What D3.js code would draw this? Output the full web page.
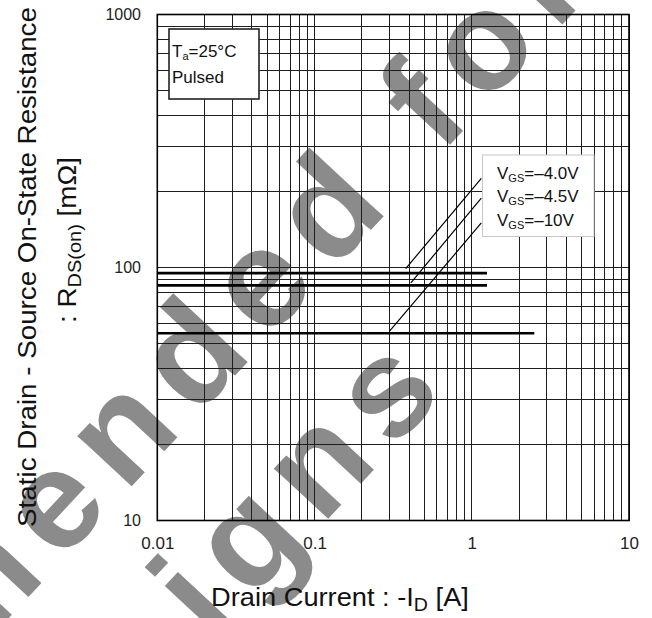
<!DOCTYPE html>
<html>
<head>
<meta charset="utf-8">
<script src="https://cdn.jsdelivr.net/npm/d3@7"></script>
<style>
  html, body { margin: 0; padding: 0; background: #fff; }
  svg { display: block; font-family: 'Liberation Sans', Arial, sans-serif; }
  text { white-space: pre; }
</style>
</head>
<body>
<div id="chart"></div>
<script>
// tick labels
const xTickLabels = [0.01, 0.1, 1, 10];
const yTickLabels = [10, 100, 1000];

// R_DS(on) curves, one per gate voltage (flat over the measured range)
const vgsLabels = ['=\u20134.0V', '=\u20134.5V', '=\u201310V'];
const rdsOn = [95, 85, 55];
const idFrom = [0.01, 0.01, 0.01];
const idTo = [1.25, 1.25, 2.5];

// leader lines from each curve to the legend
const leaderFrom = [[0.38, 99], [0.41, 87], [0.30, 56]];
const leaderTo = [[1.15, 225], [1.15, 188], [1.15, 150]];

const conditionLines = ['=25°C', 'Pulsed'];
const watermarkLines = ['Not recommended for', 'new designs'];

function createChart(element) {
  const width = 652;
  const height = 618;

  const svg = d3.select(element).append('svg')
    .attr('width', width)
    .attr('height', height);

  svg.append('rect').attr('width', width).attr('height', height).attr('fill', '#fff');

  const x = d3.scaleLog().domain([0.01, 10]).range([157.3, 629]);
  const y = d3.scaleLog().domain([10, 1000]).range([520.5, 14.5]);
  const [x0, x1] = x.range();
  const [y0, y1] = y.range();

  // watermark sits under the grid; each line is pinned by one of its letters
  const wmPin = [{ ch: 16, along: 220, base: 428 }, { ch: 10, along: -14, base: 594 }];
  const wm = svg.append('g')
    .attr('transform', 'rotate(-47)')
    .attr('fill', '#8b8b8b')
    .attr('font-weight', 'bold')
    .attr('font-size', 140)
    .attr('letter-spacing', 18);
  wm.selectAll('text')
    .data(watermarkLines)
    .enter()
    .append('text')
    .attr('x', 0)
    .attr('y', (d, i) => wmPin[i].base)
    .text(d => d)
    .each(function (d, i) {
      const ext = this.getExtentOfChar(wmPin[i].ch);
      d3.select(this).attr('x', wmPin[i].along - (ext.x + ext.width / 2));
    });

  const grid = svg.append('g')
    .attr('stroke', '#1e1e1e')
    .attr('stroke-width', 1)
    .attr('shape-rendering', 'crispEdges');
  grid.selectAll('line.gx')
    .data(x.ticks())
    .enter()
    .append('line')
    .attr('class', 'gx')
    .attr('x1', d => x(d)).attr('x2', d => x(d))
    .attr('y1', y0).attr('y2', y1);
  grid.selectAll('line.gy')
    .data(y.ticks())
    .enter()
    .append('line')
    .attr('class', 'gy')
    .attr('x1', x0).attr('x2', x1)
    .attr('y1', d => y(d)).attr('y2', d => y(d));

  svg.append('rect')
    .attr('x', x0).attr('y', y1)
    .attr('width', x1 - x0).attr('height', y0 - y1)
    .attr('fill', 'none')
    .attr('stroke', '#000')
    .attr('stroke-width', 1.6);

  const line = d3.line().x(d => x(d[0])).y(d => y(d[1]));

  svg.append('g')
    .selectAll('path')
    .data(rdsOn.map((r, i) => [[idFrom[i], r], [idTo[i], r]]))
    .enter()
    .append('path')
    .attr('d', line)
    .attr('fill', 'none')
    .attr('stroke', '#000')
    .attr('stroke-width', 2.6);

  svg.append('g')
    .selectAll('path')
    .data(leaderFrom.map((p, i) => [p, leaderTo[i]]))
    .enter()
    .append('path')
    .attr('d', line)
    .attr('fill', 'none')
    .attr('stroke', '#000')
    .attr('stroke-width', 1.2);

  // conditions box
  svg.append('rect')
    .attr('x', 169).attr('y', 29).attr('width', 90).attr('height', 70)
    .attr('fill', '#fff').attr('stroke', '#222').attr('stroke-width', 1.6);
  const cond = svg.append('g').attr('font-size', 17).attr('fill', '#111');
  const t1 = cond.append('text').attr('x', 172).attr('y', 56.7);
  t1.append('tspan').text('T');
  t1.append('tspan').attr('font-size', 11).attr('dy', 3).text('a');
  t1.append('tspan').attr('dy', -3).text(conditionLines[0]);
  cond.append('text').attr('x', 172).attr('y', 82.7).text(conditionLines[1]);

  // legend box
  svg.append('rect')
    .attr('x', 482.5).attr('y', 155).attr('width', 111.5).attr('height', 81.5)
    .attr('fill', '#fff').attr('stroke', '#c8c8c8').attr('stroke-width', 1);
  const leg = svg.append('g').attr('font-size', 17).attr('fill', '#111')
    .selectAll('text')
    .data(vgsLabels)
    .enter()
    .append('text')
    .attr('x', 497)
    .attr('y', (d, i) => 179 + i * 23.3);
  leg.append('tspan').text('V');
  leg.append('tspan').attr('font-size', 11).attr('dy', 3).text('GS');
  leg.append('tspan').attr('dy', -3).text(d => d);

  // axes
  const xAxis = svg.append('g')
    .attr('transform', `translate(0,${y0})`)
    .call(d3.axisBottom(x).tickValues(xTickLabels).tickSize(0).tickPadding(16.5).tickFormat(d => String(d)));
  xAxis.select('.domain').remove();
  xAxis.selectAll('text').attr('font-size', 17).attr('font-family', 'Liberation Sans, Arial, sans-serif').attr('fill', '#222');

  const yAxis = svg.append('g')
    .attr('transform', `translate(${x0},0)`)
    .call(d3.axisLeft(y).tickValues(yTickLabels).tickSize(0).tickPadding(16.3).tickFormat(d => String(d)));
  yAxis.select('.domain').remove();
  yAxis.selectAll('text').attr('font-size', 16).attr('font-family', 'Liberation Sans, Arial, sans-serif').attr('fill', '#222');

  // titles, stretched a little to match the original lettering
  function stretch(text, cx, cy, rot, target, k) {
    const w = text.node().getComputedTextLength();
    const s = k || target / w;
    text.attr('transform', `translate(${cx},${cy}) rotate(${rot}) scale(${s},1)`);
    return s;
  }

  const titles = svg.append('g').attr('font-size', 25).attr('fill', '#111').attr('text-anchor', 'middle');

  const xt = titles.append('text');
  xt.append('tspan').text('Drain Current : -I');
  xt.append('tspan').attr('font-size', 18).attr('dy', 5).text('D');
  xt.append('tspan').attr('dy', -5).text(' [A]');
  stretch(xt, 340, 606, 0, 258);

  const yt1 = titles.append('text').text('Static Drain - Source On-State Resistance');
  const k = stretch(yt1, 36, 267, -90, 520);

  const yt2 = titles.append('text');
  yt2.append('tspan').text(': R');
  yt2.append('tspan').attr('font-size', 18).attr('dy', 5).text('DS(on)');
  yt2.append('tspan').attr('dy', -5).text(' [m\u03a9]');
  stretch(yt2, 76, 240, -90, 0, k);
}

createChart(document.getElementById('chart'));
</script>
</body>
</html>
